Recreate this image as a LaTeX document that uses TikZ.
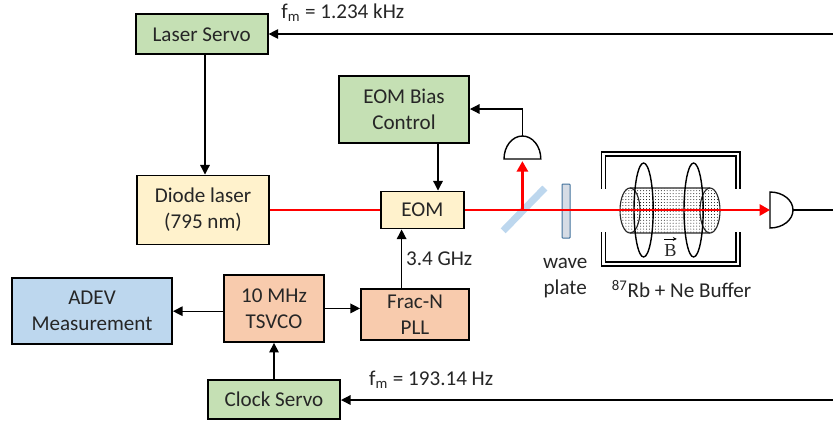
\documentclass[tikz,border=0pt]{standalone}
\usepackage{fontspec}
\setmainfont{Carlito}
\newfontfamily\fieldfont{Liberation Serif}
\usetikzlibrary{positioning,arrows.meta,patterns.meta}
\definecolor{boxgreen}{HTML}{C5E0B4}
\definecolor{boxyellow}{HTML}{FFF2CC}
\definecolor{boxblue}{HTML}{BDD7EE}
\definecolor{boxorange}{HTML}{F8CBAD}
\definecolor{platefill}{HTML}{D6DCE5}
\definecolor{plateedge}{HTML}{41719C}
\definecolor{txt}{HTML}{262626}
\tikzset{
  block/.style={draw=black,line width=1.4pt,align=center,inner sep=0pt,text=txt},
  sig/.style={draw=black,line width=0.85pt,-{Triangle[length=2.4mm,width=2.4mm]}},
  wire/.style={draw=black,line width=0.85pt},
  beam/.style={draw=red,line width=1.6pt},
  beamtip/.style={-{Triangle[length=2.6mm,width=2.8mm]}},
  label/.style={text=txt,inner sep=0pt,align=center},
  detector/.style={draw=black,line width=1pt,fill=white},
  shield/.style={draw=black,line width=0.9pt},
}
\begin{document}
\begin{tikzpicture}[font=\fontsize{15}{18.5}\selectfont]
\useasboundingbox (0,0) rectangle (20.825,-10.525);
% blocks
\node[block,fill=boxgreen,minimum width=3.3cm,minimum height=1cm] (laserservo) at (5.04,-0.86) {Laser Servo};
\node[block,fill=boxyellow,minimum width=3.3cm,minimum height=1.725cm] (diode) at (5.075,-5.25) {Diode laser\\(795 nm)};
\node[block,fill=boxgreen,minimum width=3.25cm,minimum height=1.675cm] (eombias) at (10.1,-2.74) {EOM Bias\\Control};
\node[block,fill=boxyellow,minimum width=2.075cm,minimum height=0.925cm] (eom) at (10.56,-5.25) {EOM};
\node[block,fill=boxblue,minimum width=4cm,minimum height=1.65cm] (adev) at (2.3,-7.78) {ADEV\\Measurement};
\node[block,fill=boxorange,minimum width=2.5cm,minimum height=1.675cm] (tsvco) at (6.85,-7.71) {10 MHz\\TSVCO};
\node[block,fill=boxorange,minimum width=2.7cm,minimum height=1.275cm] (fracn) at (10.375,-7.86) {Frac-N\\PLL};
\node[block,fill=boxgreen,minimum width=3.3cm,minimum height=0.975cm] (clockservo) at (6.85,-9.99) {Clock Servo};
% free ends and optics
\coordinate (topin) at (20.825,-0.85);
\coordinate (botin) at (20.825,-10);
\coordinate (lineout) at (20.825,-5.25);
\coordinate (mirror) at (13.06,-5.25);
\coordinate (det1) at (13.06,-3.975);
\coordinate (det1top) at (13.06,-3.4);
\coordinate (det2) at (19.25,-5.25);
\coordinate (biasline) at (10.95,-2.725);
\coordinate (rfline) at (10.04,-6);
% optics
\draw[boxblue,line width=5pt] (12.58,-5.77) -- (13.62,-4.7);
\draw[draw=plateedge,fill=platefill,line width=0.7pt,rounded corners=0.5pt] (14.05,-4.6) rectangle (14.25,-5.95);
% vapour cell
\draw[black!85,line width=0.8pt,pattern={Dots[distance=2.1pt,radius=0.34pt]},pattern color=black] (15.75,-4.7) arc[start angle=90,end angle=270,x radius=0.25cm,y radius=0.5625cm] -- (17.75,-5.825) arc[start angle=-90,end angle=90,x radius=0.25cm,y radius=0.5625cm] -- cycle;
\draw[black!85,line width=0.8pt] (15.75,-4.7) arc[start angle=90,end angle=-90,x radius=0.25cm,y radius=0.5625cm];
\draw[black!85,line width=0.8pt] (17.75,-4.7) arc[start angle=90,end angle=270,x radius=0.25cm,y radius=0.5625cm];
\draw[black,line width=1pt] (16.09,-5.25) ellipse[x radius=0.24cm,y radius=1.175cm];
\draw[black,line width=1pt] (17.34,-5.25) ellipse[x radius=0.24cm,y radius=1.175cm];
% shield
\draw[shield] (15.03,-4.72) |- (18.5,-3.8) -- (18.5,-4.72);
\draw[shield] (15.13,-4.72) |- (18.4,-3.9) -- (18.4,-4.72);
\draw[shield] (15.03,-5.8) |- (18.5,-6.65) -- (18.5,-5.8);
\draw[shield] (15.13,-5.8) |- (18.4,-6.55) -- (18.4,-5.8);
% detectors
\draw[detector] (12.6,-3.975) arc[start angle=180,end angle=0,x radius=0.46cm,y radius=0.575cm] -- cycle;
\draw[detector] (det2)+(0,0.45) arc[start angle=90,end angle=-90,x radius=0.575cm,y radius=0.45cm] -- cycle;
% signals
\draw[sig] (topin) -- (topin -| laserservo.east);
\draw[sig] ([xshift=0.05cm]diode.north |- laserservo.south) -- ([xshift=0.05cm]diode.north);
\draw[sig] (det1top) |- (eombias.east |- biasline);
\draw[sig] (biasline |- eombias.south) -- (biasline |- eom.north);
\draw[sig] (rfline |- fracn.north) -- (rfline |- eom.south);
\draw[sig] (tsvco.east) -- (tsvco.east -| fracn.west);
\draw[sig] (tsvco.west |- adev.east) -- (adev.east);
\draw[sig] (clockservo.north) -- (tsvco.south);
\draw[sig] (botin) -- (botin -| clockservo.east);
\draw[wire] ([xshift=0.575cm]det2) -- (lineout);
% beam
\draw[beam] (diode.east) -- (eom.west);
\draw[beam,beamtip] (eom.east) -- (det2);
\draw[beam,beamtip] (mirror) -- (13.06,-4.03);
% labels
\node[label] (fm1) at (8.57,-0.32) {f\textsubscript{m} = 1.234 kHz};
\node[label] (fm2) at (10.78,-9.5) {f\textsubscript{m} = 193.14 Hz};
\node[label] (ghz) at (10.98,-6.47) {3.4 GHz};
\node[label] (waveplate) at (14.13,-6.95) {wave\\plate};
\node[label] (cell) at (17.04,-7.22) {\textsuperscript{87}Rb + Ne Buffer};
\node[label,font=\fieldfont\fontsize{13}{15}\selectfont] (bfield) at (16.76,-6.27) {B};
\draw[black,line width=0.5pt,-{Stealth[length=1mm,width=1mm]}] ([yshift=0.14cm]bfield.north west) -- ([yshift=0.14cm]bfield.north east);
\end{tikzpicture}
\end{document}
